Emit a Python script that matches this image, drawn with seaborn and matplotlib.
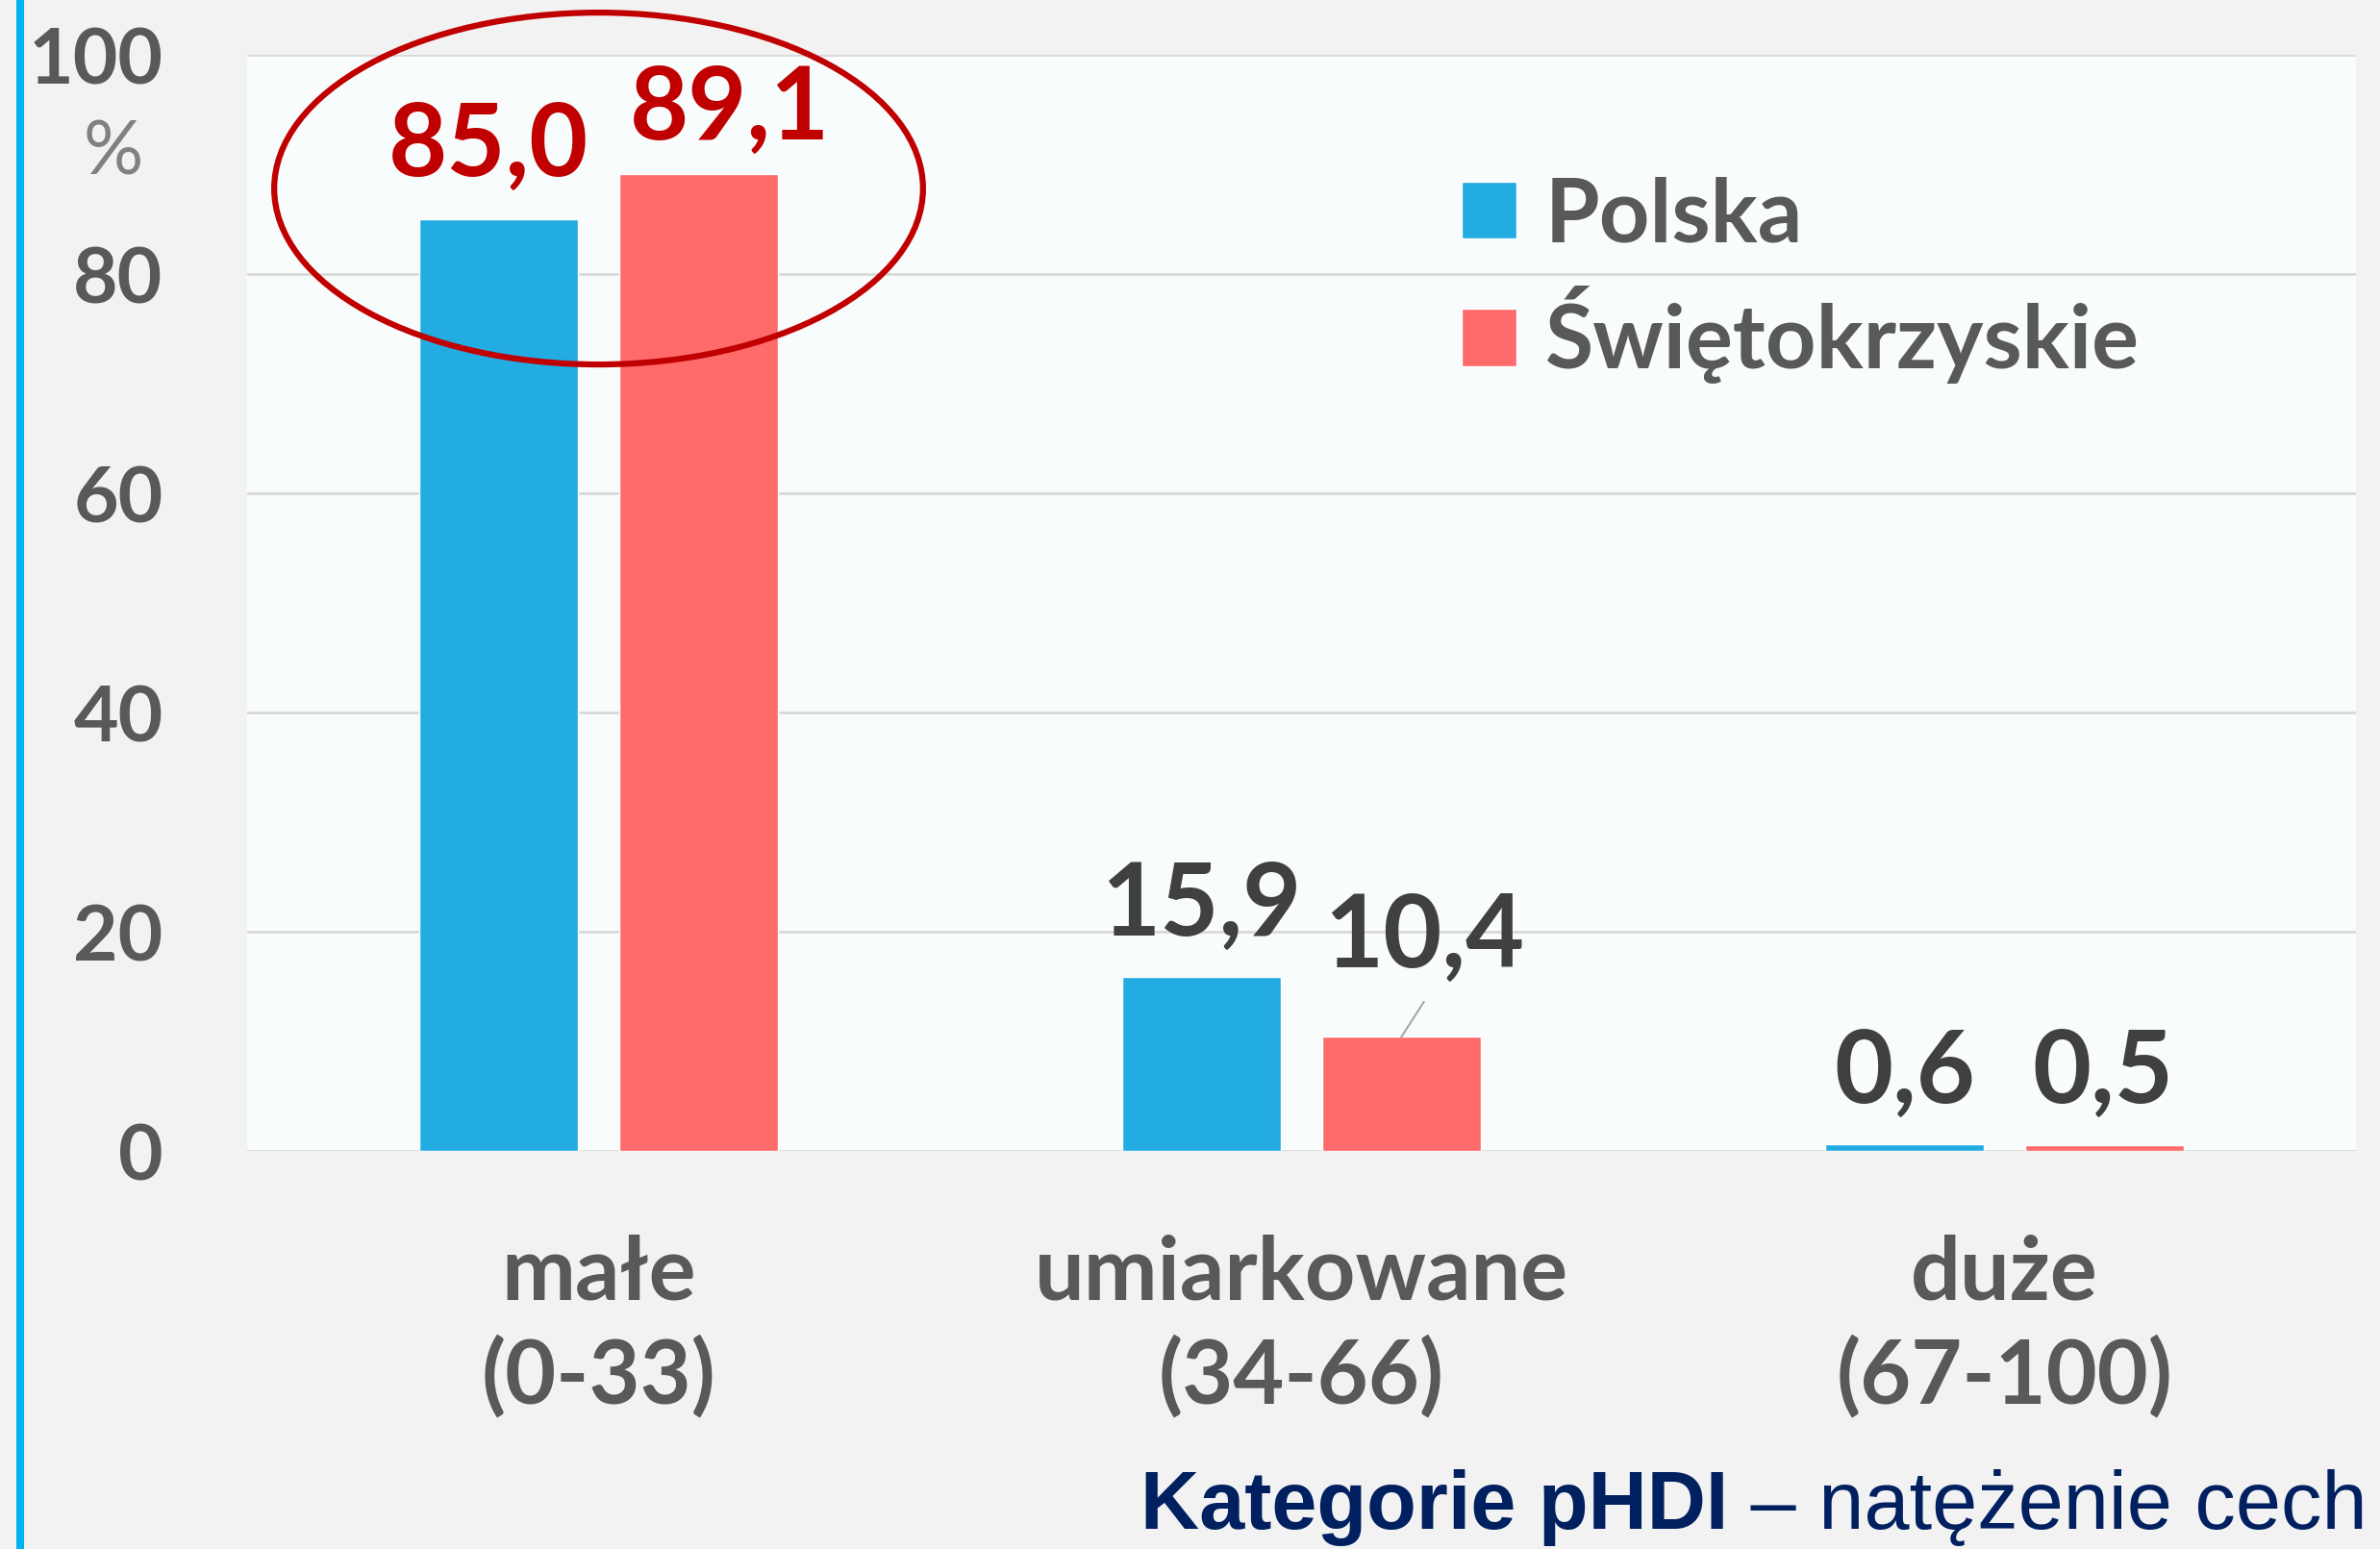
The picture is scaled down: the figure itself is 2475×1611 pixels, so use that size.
import matplotlib
matplotlib.use("Agg")
import matplotlib.pyplot as plt
import seaborn as sns
import pandas as pd
from matplotlib.patches import Ellipse
from matplotlib.lines import Line2D

# ---- data ----
categories = ["małe\n(0-33)", "umiarkowane\n(34-66)", "duże\n(67-100)"]
series = ["Polska", "Świętokrzyskie"]
polska = [85.0, 15.9, 0.6]
swietokrzyskie = [89.1, 10.4, 0.5]
labels_polska = ["85,0", "15,9", "0,6"]
labels_swiet = ["89,1", "10,4", "0,5"]
yticks = [0, 20, 40, 60, 80, 100]
ytick_labels = ["0", "20", "40", "60", "80", "100"]
axis_title_bold = "Kategorie pHDI"
axis_title_rest = " – natężenie cech"
unit_label = "%"

df = pd.DataFrame({
    "kategoria": categories * 2,
    "seria": [series[0]] * len(categories) + [series[1]] * len(categories),
    "wartosc": polska + swietokrzyskie,
})

sns.set_theme(style="white")
plt.rcParams['font.family'] = ['Lato', 'DejaVu Sans']

W, H = 2475, 1611
fig = plt.figure(figsize=(W / 100, H / 100), dpi=100, facecolor="#F2F2F2")
ax = fig.add_axes([257 / W, 1 - 1197 / H, 2193 / W, 1140 / H])
ax.set_facecolor("#F9FCFD")

blue, red = "#22ACE2", "#FF6B6B"
sns.barplot(data=df, x="kategoria", y="wartosc", hue="seria",
            palette=[blue, red], width=0.5696, gap=0.211, saturation=1,
            ax=ax, zorder=3)

ax.set_xlim(-0.5, 2.5)
ax.set_ylim(0, 100)
for s in ax.spines.values():
    s.set_visible(False)
ax.set_axisbelow(True)
ax.yaxis.grid(True, color="#D9D9D9", lw=2)
ax.xaxis.grid(False)
ax.set_xlabel("")
ax.set_ylabel("")

ax.set_yticks(yticks)
ax.set_yticklabels(ytick_labels, fontsize=58, fontweight="bold", color="#595959")
ax.tick_params(axis="y", length=0, pad=63)
ax.set_xticks(range(len(categories)))
ax.set_xticklabels(categories, fontsize=66, fontweight="bold", color="#595959",
                   linespacing=1.3)
ax.tick_params(axis="x", length=0, pad=62)

# value labels
pol_pos = [(-0.157, 89.0), (0.858, 19.7), (1.858, 4.4)]
swi_pos = [(0.187, 92.3), (1.175, 16.8), (2.14, 4.4)]
for i in range(len(categories)):
    col = "#C00000" if i == 0 else "#404040"
    ax.text(pol_pos[i][0], pol_pos[i][1], labels_polska[i], ha="center",
            va="baseline", fontsize=76, fontweight="bold", color=col, zorder=6)
    ax.text(swi_pos[i][0], swi_pos[i][1], labels_swiet[i], ha="center",
            va="baseline", fontsize=76, fontweight="bold", color=col, zorder=6)

# leader line for 10,4
ax.plot([1.142, 1.174], [swietokrzyskie[1], 13.6], color="#A6A6A6", lw=1.5, zorder=4)

# highlight ellipse
ax.add_patch(Ellipse((0.0, 87.8), 0.923, 32.1, fill=False, ec="#C00000",
                     lw=4.5, clip_on=False, zorder=7))

# legend
handles, labs = ax.get_legend_handles_labels()
ax.legend(handles, labs, loc="upper left",
          bbox_to_anchor=(1520 / W, 1 - 183 / H), bbox_transform=fig.transFigure,
          frameon=False, prop={"family": ["Lato", "DejaVu Sans"], "weight": "bold", "size": 66},
          labelcolor="#595959", handlelength=0.62, handleheight=0.62,
          handletextpad=0.33, labelspacing=0.33, borderpad=0, borderaxespad=0)

# % unit
fig.text(118 / W, 1 - 160 / H, unit_label, ha="center", va="center",
         fontsize=56, color="#808080")

# left accent line
fig.add_artist(Line2D([21 / W, 21 / W], [0, 1], transform=fig.transFigure,
                      color="#00B0F0", lw=5.8))

# axis title (bold + normal)
t_rest = fig.text(2462 / W, 1 - 1590 / H, axis_title_rest, ha="right", va="baseline",
                  fontsize=61, color="#002060", family=["Liberation Sans", "DejaVu Sans"])
fig.canvas.draw()
bb = t_rest.get_window_extent()
fig.text(bb.x0 / W, 1 - 1590 / H, axis_title_bold, ha="right", va="baseline",
         fontsize=61, fontweight="bold", color="#002060",
         family=["Liberation Sans", "DejaVu Sans"])

fig.savefig("out.png", dpi=100, facecolor=fig.get_facecolor())
